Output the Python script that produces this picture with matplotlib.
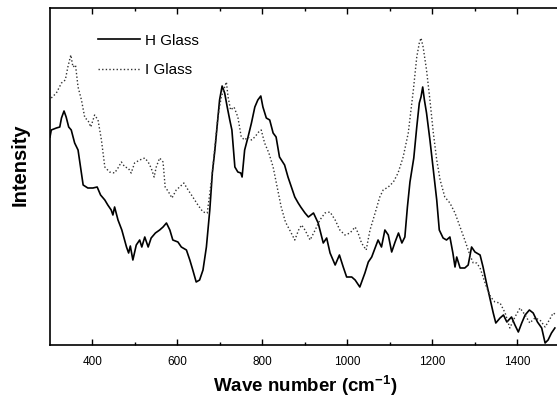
import matplotlib
matplotlib.use("Agg")
import matplotlib.pyplot as plt

plt.rcParams['font.family'] = ['Liberation Sans', 'DejaVu Sans']
plt.rcParams['mathtext.fontset'] = 'custom'
plt.rcParams['mathtext.rm'] = 'Liberation Sans'
plt.rcParams['mathtext.bf'] = 'Liberation Sans:bold'

# Raman-type spectra (intensity in arbitrary units)
h_wave = [300, 303, 315, 323, 327, 333, 338, 344, 350, 358, 366, 374, 378, 389,
          401, 411, 419, 429, 436, 444, 448, 452, 460, 469, 480, 485, 489, 495,
          503, 511, 516, 523, 531, 538, 548, 558, 566, 574, 582, 589, 601, 609,
          621, 629, 636, 644, 652, 660, 668, 676, 682, 688, 694, 699, 705, 711,
          717, 723, 728, 735, 742, 749, 752, 758, 766, 774, 782, 789, 796, 801,
          809, 817, 825, 832, 840, 852, 860, 868, 876, 884, 890, 900, 908, 920,
          931, 943, 951, 959, 971, 981, 990, 998, 1010, 1018, 1029, 1041, 1049,
          1057, 1065, 1072, 1080, 1088, 1096, 1104, 1112, 1120, 1128, 1135, 1141,
          1147, 1156, 1163, 1169, 1173, 1177, 1181, 1186, 1194, 1202, 1210, 1216,
          1225, 1233, 1241, 1248, 1253, 1257, 1265, 1276, 1284, 1292, 1300, 1312,
          1319, 1327, 1337, 1343, 1349, 1359, 1367, 1375, 1386, 1394, 1402, 1410,
          1418, 1428, 1437, 1447, 1457, 1465, 1472, 1480, 1488]
h_int = [208, 215, 217, 218, 227, 234, 228, 218, 215, 202, 195, 172, 160, 157,
         157, 158, 150, 145, 140, 135, 130, 138, 125, 115, 98, 92, 99, 85,
         100, 105, 98, 108, 98, 107, 112, 115, 118, 122, 115, 105, 103, 98,
         95, 85, 75, 63, 65, 75, 98, 135, 172, 195, 222, 245, 259, 252,
         238, 225, 215, 178, 173, 172, 168, 195, 208, 222, 238, 245, 249, 238,
         227, 225, 212, 208, 188, 180, 168, 158, 148, 142, 138, 132, 128, 132,
         122, 102, 107, 92, 80, 90, 78, 68, 68, 65, 58, 72, 83,
         88, 97, 105, 98, 115, 110, 93, 103, 112, 102, 108, 138,
         163, 187, 218, 242, 248, 258, 245, 232, 205, 175, 145, 115,
         107, 105, 108, 92, 78, 88, 77, 77, 80, 98, 93, 90,
         78, 62, 43, 32, 22, 27, 30, 23, 28, 20, 13, 22,
         30, 35, 32, 23, 17, 2, 5, 12, 17]

i_wave = [303, 315, 327, 336, 342, 349, 354, 360, 366, 374, 382, 389, 396, 405,
          413, 421, 429, 440, 452, 460, 468, 476, 484, 491, 499, 511, 523, 531,
          538, 545, 550, 558, 566, 571, 579, 587, 597, 605, 615, 625, 636, 648,
          660, 670, 680, 688, 695, 703, 711, 715, 719, 725, 733, 742, 750, 758,
          766, 774, 782, 791, 797, 805, 815, 825, 836, 844, 854, 864, 876, 885,
          892, 900, 912, 924, 935, 947, 959, 971, 982, 994, 1006, 1018, 1025,
          1033, 1044, 1053, 1065, 1076, 1084, 1096, 1108, 1119, 1131, 1143, 1155,
          1163, 1169, 1173, 1178, 1186, 1194, 1202, 1210, 1218, 1229, 1241, 1253,
          1265, 1276, 1288, 1296, 1304, 1312, 1319, 1327, 1337, 1347, 1359, 1371,
          1382, 1394, 1406, 1418, 1429, 1441, 1453, 1465, 1475, 1484, 1492]
i_int = [247, 252, 262, 265, 278, 290, 278, 280, 258, 245, 227, 225, 218, 230,
         225, 205, 178, 173, 172, 177, 183, 178, 177, 172, 182, 185, 187, 183,
         177, 168, 178, 187, 183, 158, 153, 147, 155, 158, 162, 155, 148, 140,
         133, 132, 165, 198, 228, 248, 258, 263, 248, 235, 238, 228, 208, 205,
         208, 205, 208, 213, 215, 202, 192, 178, 155, 138, 123, 115, 105, 115,
         120, 115, 105, 115, 125, 132, 133, 125, 115, 110, 112, 118, 112,
         102, 95, 115, 132, 148, 155, 158, 163, 172, 188, 212, 255,
         288, 302, 307, 298, 275, 245, 212, 185, 165, 148, 142, 132,
         118, 105, 90, 82, 82, 77, 68, 58, 48, 43, 42, 32,
         17, 28, 37, 30, 22, 27, 25, 18, 25, 32, 30]

x_ticks = [400, 600, 800, 1000, 1200, 1400]

fig = plt.figure(figsize=(5.57, 3.99), dpi=100)
ax = fig.add_axes([50 / 557, 54 / 399, 507 / 557, 337.5 / 399])

ax.plot(h_wave, h_int, color="black", lw=1.2, label="H Glass")
ax.plot(i_wave, i_int, color="#333333", lw=1.0, linestyle=(0, (1, 1.6)), label="I Glass")

ax.set_xlim(300, 1493)
ax.set_ylim(0, 337.5)
ax.set_xticks(x_ticks)
ax.set_xticks(range(500, 1500, 200), minor=True)
ax.set_yticks([])
ax.tick_params(axis="x", which="both", direction="in", top=True, bottom=True,
               labelsize=8.5, pad=8, width=1.0)
ax.tick_params(axis="x", which="major", length=4.5)
ax.tick_params(axis="x", which="minor", length=2.5)
ax.spines["right"].set_visible(False)
for s in ["left", "top", "bottom"]:
    ax.spines[s].set_linewidth(1.2)

ax.set_xlabel("Wave number (cm$^{\\mathbf{-1}}$)", fontsize=13.5, fontweight="bold")
ax.xaxis.set_label_coords(0.504, -0.085)
ax.set_ylabel("Intensity", fontsize=14.5, fontweight="bold")
ax.yaxis.set_label_coords(-0.04, 0.533)

ax.legend(loc="upper left", bbox_to_anchor=(0.0947, 0.922), frameon=False,
          fontsize=11, handlelength=2.75, handletextpad=0.35, labelspacing=1.0,
          borderpad=0, borderaxespad=0)

fig.savefig("out.png", dpi=100)
